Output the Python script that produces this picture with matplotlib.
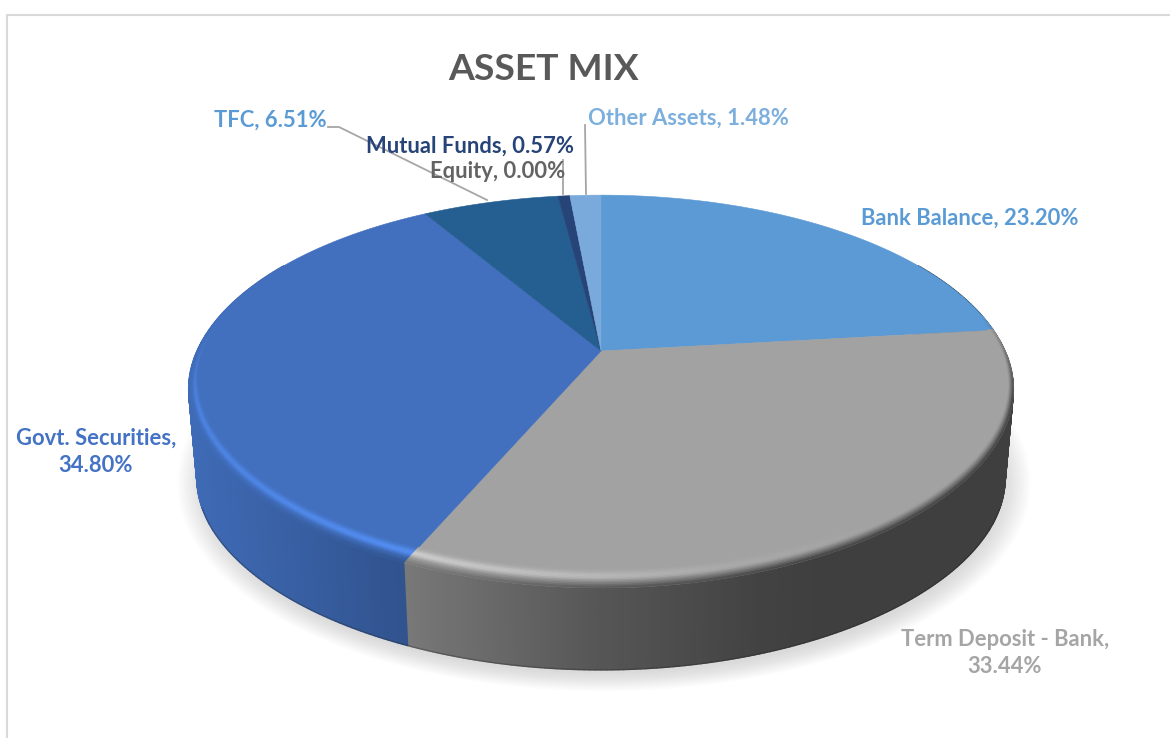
import numpy as np
import matplotlib
matplotlib.use("Agg")
import matplotlib.pyplot as plt
from matplotlib.collections import PolyCollection
from matplotlib.patches import Polygon, Ellipse
from matplotlib.colors import to_rgb

# ---- data ----
categories = ["Bank Balance", "Term Deposit - Bank", "Govt. Securities", "TFC",
              "Mutual Funds", "Equity", "Other Assets"]
shares = [23.20, 33.44, 34.80, 6.51, 0.57, 0.00, 1.48]
slice_colors = ["#5b9ad5", "#a2a2a2", "#4270bf", "#255e91", "#264478", "#636363", "#7aa9db"]
label_colors = ["#5b9bd5", "#a5a5a5", "#4472c4", "#5b9bd5", "#264478", "#636363", "#7cafdd"]
label_text = ["Bank Balance, 23.20%", "Term Deposit - Bank,\n33.44%", "Govt. Securities,\n34.80%",
              "TFC, 6.51%", "Mutual Funds, 0.57%", "Equity, 0.00%", "Other Assets, 1.48%"]
label_pos = [(970, 218), (1005, 653), (96, 452), (270, 120.5), (470, 146.5), (498, 171.5), (688, 118.5)]

# ---- layout ----
W, H = 1170, 738
APEX = (601.0, 351.0)
A, B, K = 404.0, 188.0, 0.206      # perspective of the top disc
BASE_CY, TOP_CY = 480.0, 391.0
SX, SY = 0.98, 0.965               # bottom disc scaling
FS = 15.85

plt.rcParams["font.family"] = ["Lato", "DejaVu Sans"]
fig = plt.figure(figsize=(W / 100, H / 100), dpi=100)
ax = fig.add_axes([0, 0, 1, 1])
ax.set_xlim(0, W)
ax.set_ylim(H, 0)
ax.axis("off")


def top_xy(theta, r=1.0):
    """theta clockwise from 12 o'clock, degrees; r radial fraction."""
    t = np.radians(theta)
    u, v = r * np.sin(t), r * np.cos(t)
    w = 1 + K * v
    squeeze = 1 - 0.03 * np.clip(-v, 0, 1) ** 2
    return APEX[0] + squeeze * A * u / w, APEX[1] - B * v / w


def base_xy(theta):
    x, y = top_xy(theta)
    return APEX[0] + (x - APEX[0]) * SX, BASE_CY + (y - TOP_CY) * SY


def wall_factor(x):
    return np.interp(x, [190, 405, 600, 760, 820], [0.95, 0.74, 0.53, 0.41, 0.39])


def rim_strength(theta):
    return np.clip((-np.cos(np.radians(theta)) + 0.2) / 0.45, 0, 1)


def rim_width(theta):
    return 0.014 + 0.05 * np.clip(-np.cos(np.radians(theta)), 0, 1)


def rim_highlight(theta):
    return np.interp(theta, [0, 140, 165, 205, 235, 275, 360],
                     [0, 0, 0.05, 0.27, 0.2, 0.13, 0])


# frame
ax.plot([6.5, 6.5, 1169], [H, 14.5, 14.5], color="#d9d9d9", lw=1.5, solid_joinstyle="miter", zorder=1)

# soft shadow
for i in range(14):
    ax.add_patch(Ellipse((APEX[0] + 3, BASE_CY + 3), 2 * (398 + 2.2 * i), 2 * (190 + 1.4 * i),
                         facecolor="#808080", edgecolor="none", alpha=0.02, zorder=2 + (14 - i) * 0.001))

edges = np.concatenate([[0], np.cumsum(shares)]) * 3.6
NSTEP = 360


def color_at(theta):
    idx = np.searchsorted(edges[1:], theta, side="right")
    idx = min(idx, len(slice_colors) - 1)
    return np.array(to_rgb(slice_colors[idx]))


# side wall
wall_polys, wall_cols = [], []
thetas = np.linspace(60, 300, NSTEP + 1)
for a, b in zip(thetas[:-1], thetas[1:]):
    x0, y0 = top_xy(a)
    x1, y1 = top_xy(b)
    x2, y2 = base_xy(b)
    x3, y3 = base_xy(a)
    mid = (a + b) / 2
    wall_polys.append([(x0, y0), (x1, y1), (x2, y2), (x3, y3)])
    wall_cols.append(np.clip(color_at(mid) * wall_factor((x0 + x1) / 2), 0, 1))
ax.add_collection(PolyCollection(wall_polys, facecolors=wall_cols, edgecolors=wall_cols,
                                 linewidths=1.0, zorder=3))
bx, by = base_xy(np.linspace(110, 250, 300))
ax.plot(bx, by, color="#202020", alpha=0.3, lw=1.0, zorder=3.1)

# top surface slices
for start, stop, col, sh in zip(edges[:-1], edges[1:], slice_colors, shares):
    if sh <= 0:
        continue
    th = np.linspace(start, stop, 200)
    x, y = top_xy(th)
    ax.add_patch(Polygon(np.column_stack([np.r_[APEX[0], x], np.r_[APEX[1], y]]),
                         closed=True, facecolor=col, edgecolor=col, lw=0.4, zorder=4))

# bevel on the rim
rim_polys, rim_cols = [], []
radial = np.linspace(0.0, 1.0, 13)
thetas = np.linspace(60, 300, NSTEP + 1)
for a, b in zip(thetas[:-1], thetas[1:]):
    mid = (a + b) / 2
    s = rim_strength(mid)
    if s <= 0:
        continue
    base = color_at(mid)
    h = rim_highlight(mid)
    xm, _ = top_xy(mid)
    wf = wall_factor(xm)
    wa, wb = rim_width(a), rim_width(b)
    for t0, t1 in zip(radial[:-1], radial[1:]):
        t = (t0 + t1) / 2
        bump = np.exp(-((t - 0.38) / 0.22) ** 2)
        col = base * (1 + h * bump)
        fall = np.clip((t - 0.5) / 0.5, 0, 1) ** 1.2
        col = col * (1 - fall) + base * wf * fall
        col = base * (1 - s) + col * s
        rim_polys.append([top_xy(a, 1 - wa * (1 - t0)), top_xy(b, 1 - wb * (1 - t0)),
                          top_xy(b, 1 - wb * (1 - t1)), top_xy(a, 1 - wa * (1 - t1))])
        rim_cols.append(np.clip(col, 0, 1))
ax.add_collection(PolyCollection(rim_polys, facecolors=rim_cols, edgecolors=rim_cols,
                                 linewidths=0.5, zorder=5))

# leader lines
LEADER = "#a6a6a6"
ax.plot([328, 339, 487], [127, 127, 200], color=LEADER, lw=1.3, zorder=6)
ax.plot([563, 563], [160, 194], color=LEADER, lw=1.3, zorder=6)
ax.plot([585, 586], [125, 194], color=LEADER, lw=1.3, zorder=6)

# labels
ax.text(544, 70, "ASSET MIX", fontsize=26.8, fontweight="bold", color="#595959",
        ha="center", va="center", zorder=7)
for txt, (x, y), col in zip(label_text, label_pos, label_colors):
    ax.text(x, y, txt, fontsize=FS, fontweight="bold", color=col, ha="center", va="center",
            linespacing=1.38, zorder=7)

fig.savefig("out.png", dpi=100, facecolor="white")
